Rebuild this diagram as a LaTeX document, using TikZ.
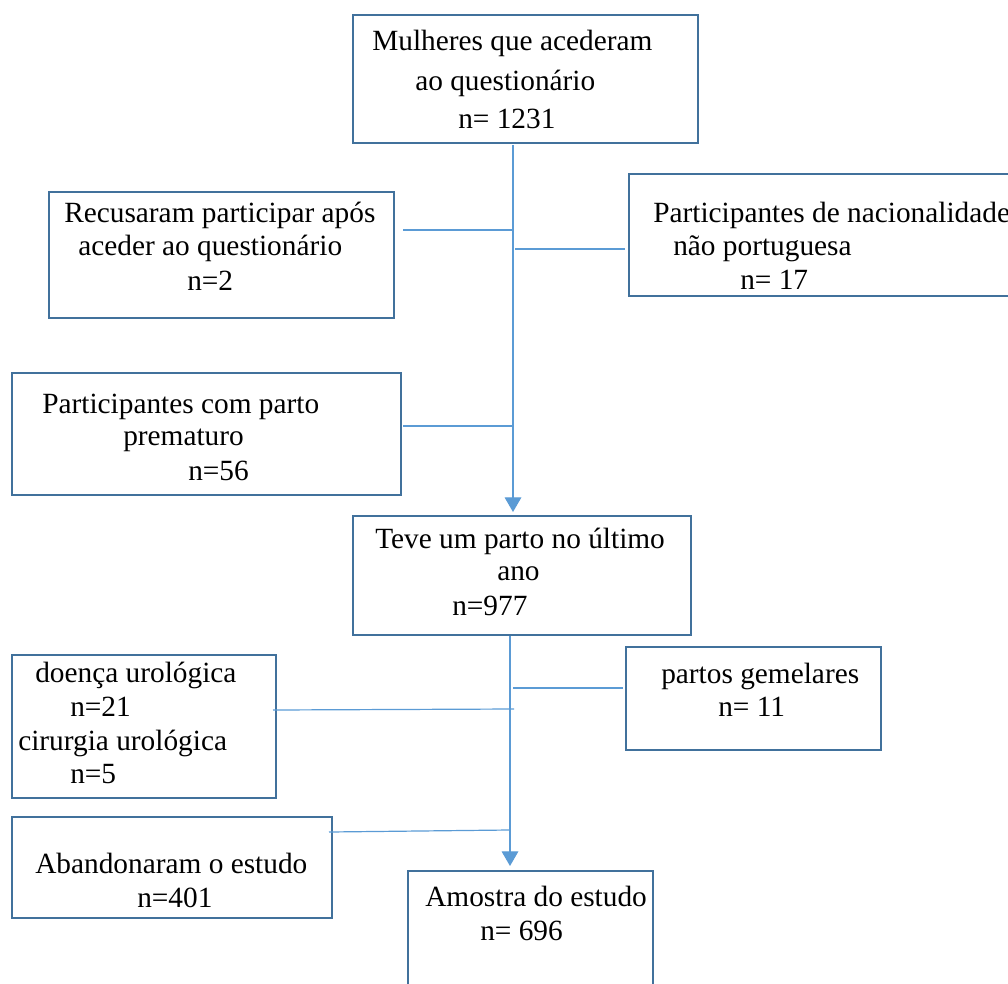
\documentclass[tikz,border=0pt]{standalone}
\usepackage{fontspec}
\setmainfont{Liberation Serif}
\usetikzlibrary{arrows.meta}
\definecolor{boxblue}{RGB}{65,113,156}
\definecolor{linkblue}{RGB}{91,155,213}
\begin{document}
\begin{tikzpicture}[x=0.75pt,y=-0.75pt,
  box/.style={draw=boxblue, line width=1.9pt, inner sep=0pt, fill=none},
  txt/.style={anchor=base west, inner sep=0pt, font=\fontsize{22}{26}\selectfont},
  link/.style={draw=linkblue, line width=0.9pt},
  arrowlink/.style={link, -{Triangle[width=12.5pt,length=11pt]}}]
\useasboundingbox (0,0) rectangle (1008,983);
% boxes
\node[box, minimum width=258.75pt, minimum height=96pt] (b1) at (525.5,79) {};
\node[box, minimum width=258.75pt, minimum height=94.5pt] (b2) at (221.5,255) {};
\node[box, minimum width=290.25pt, minimum height=91.5pt] (b3) at (822.5,235) {};
\node[box, minimum width=291.75pt, minimum height=91.5pt] (b4) at (206.5,434) {};
\node[box, minimum width=253.5pt, minimum height=89.25pt] (b5) at (522,575.5) {};
\node[box, minimum width=198pt, minimum height=107.25pt] (b6) at (144,726.5) {};
\node[box, minimum width=191.25pt, minimum height=77.25pt] (b7) at (753.5,698.5) {};
\node[box, minimum width=240pt, minimum height=75.75pt] (b8) at (172,867.5) {};
\node[box, minimum width=183.75pt, minimum height=93pt] (b9) at (530.5,933) {};
% texts
\node[txt] (t1a) at (372,50) {Mulheres que acederam};
\node[txt] (t1b) at (415,90) {ao questionário};
\node[txt] (t1c) at (458,128) {n= 1231};
\node[txt] (t2a) at (64,222) {Recusaram participar após};
\node[txt] (t2b) at (78,255) {aceder ao questionário};
\node[txt] (t2c) at (187,290) {n=2};
\node[txt] (t3a) at (653,222) {Participantes de nacionalidade};
\node[txt] (t3b) at (673,255) {não portuguesa};
\node[txt] (t3c) at (740,289) {n= 17};
\node[txt] (t4a) at (42,413) {Participantes com parto};
\node[txt] (t4b) at (123,445) {prematuro};
\node[txt] (t4c) at (188,480) {n=56};
\node[txt] (t5a) at (375,548) {Teve um parto no último};
\node[txt] (t5b) at (497,580) {ano};
\node[txt] (t5c) at (452,615) {n=977};
\node[txt] (t6a) at (35,682) {doença urológica};
\node[txt] (t6b) at (70,716) {n=21};
\node[txt] (t6c) at (18,750) {cirurgia urológica};
\node[txt] (t6d) at (70,783) {n=5};
\node[txt] (t7a) at (661,683) {partos gemelares};
\node[txt] (t7b) at (718,716) {n= 11};
\node[txt] (t8a) at (35,873) {Abandonaram o estudo};
\node[txt] (t8b) at (137,907) {n=401};
\node[txt] (t9a) at (425,906) {Amostra do estudo};
\node[txt] (t9b) at (480,940) {n= 696};
% connector coordinates
\coordinate (v1top) at (513,145);
\coordinate (v1end) at (513,512);
\coordinate (l2a) at (403,230);
\coordinate (l2b) at (513,230);
\coordinate (l3a) at (515,249);
\coordinate (l3b) at (625,249);
\coordinate (l4a) at (403,426);
\coordinate (l4b) at (513,426);
\coordinate (v2top) at (510,636);
\coordinate (v2end) at (510,866);
\coordinate (l7a) at (513,688);
\coordinate (l7b) at (623,688);
\coordinate (l6a) at (273,710);
\coordinate (l6b) at (514,709);
\coordinate (l8a) at (329,832);
\coordinate (l8b) at (509,830);
% connectors
\draw[arrowlink] (v1top) -- (v1end);
\draw[link] (l2a) -- (l2b);
\draw[link] (l3a) -- (l3b);
\draw[link] (l4a) -- (l4b);
\draw[arrowlink] (v2top) -- (v2end);
\draw[link] (l7a) -- (l7b);
\draw[link] (l6a) -- (l6b);
\draw[link] (l8a) -- (l8b);
\end{tikzpicture}
\end{document}
